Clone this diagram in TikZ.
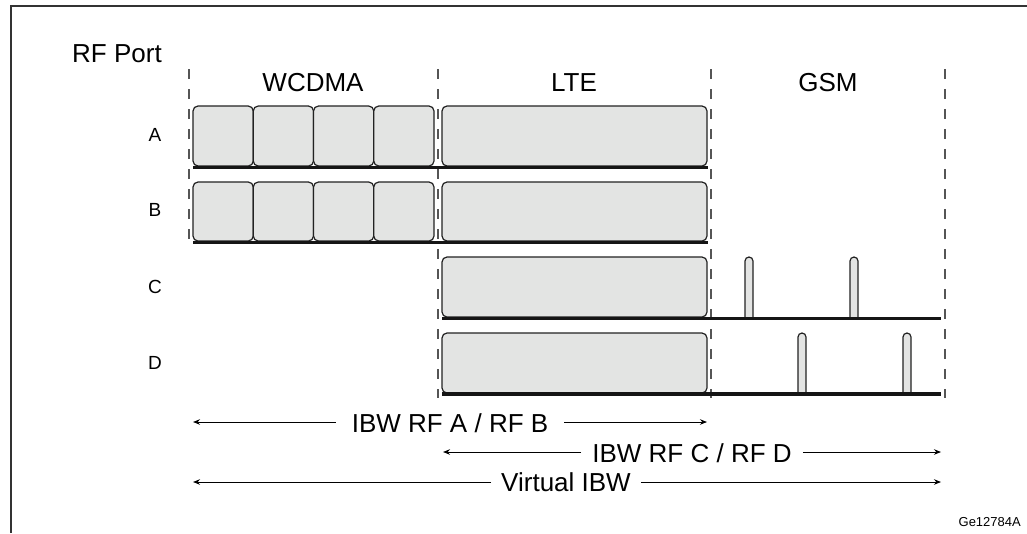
\documentclass[tikz,border=0pt]{standalone}
\usepackage{fontspec}
\setmainfont{Liberation Sans}
\usetikzlibrary{arrows.meta}
\definecolor{cellfill}{HTML}{E3E4E3}
\definecolor{cellline}{HTML}{222222}
\definecolor{baseclr}{HTML}{151515}
\definecolor{divclr}{HTML}{555555}
\definecolor{frameclr}{HTML}{333333}
\begin{document}
\begin{tikzpicture}[x=1pt,y=-1pt,
  frame/.style={draw=frameclr, line width=2pt},
  divider/.style={draw=divclr, line width=1.4pt, dash pattern=on 10pt off 10pt},
  cell/.style={draw=cellline, fill=cellfill, line width=1.2pt, rounded corners=5pt},
  pulse/.style={draw=cellline, fill=cellfill, line width=1.2pt},
  baseline/.style={draw=baseclr, line width=3.8pt},
  big/.style={font=\fontsize{26}{30}\selectfont, inner sep=0pt},
  portlbl/.style={font=\fontsize{19}{22}\selectfont, inner sep=0pt, anchor=base},
  dimtxt/.style={font=\fontsize{26}{30}\selectfont, inner ysep=0pt, anchor=base},
  arr/.style={draw=black, line width=1pt, -{Stealth[length=7pt,width=5.5pt]}}
]
\useasboundingbox (0,0) rectangle (1027,533);

% frame
\draw[frame] (11,533) -- (11,5.5) -- (1027,5.5);

% headings
\node[big, anchor=base west] (rfport) at (72,62) {RF Port};
\node[big, anchor=base] (wcdma) at (313,91.7) {WCDMA};
\node[big, anchor=base] (lte) at (574,91.7) {LTE};
\node[big, anchor=base] (gsm) at (828,91.7) {GSM};

% dividers
\draw[divider] (189,69) -- (189,248);
\draw[divider] (438,69) -- (438,398);
\draw[divider] (711,69) -- (711,398);
\draw[divider] (945,69) -- (945,398);

% port labels
\node[portlbl] (pa) at (155,141.7) {A};
\node[portlbl] (pb) at (155,216.7) {B};
\node[portlbl] (pc) at (155,293.5) {C};
\node[portlbl] (pd) at (155,369) {D};

% WCDMA carriers
\foreach \x in {193,253.25,313.5,373.75}{
  \draw[cell] (\x,106) rectangle ++(60.25,60);
  \draw[cell] (\x,182) rectangle ++(60.25,59);
}
% LTE carriers
\draw[cell] (442,106) rectangle (707,166);
\draw[cell] (442,182) rectangle (707,241);
\draw[cell] (442,257) rectangle (707,317);
\draw[cell] (442,333) rectangle (707,393);

% GSM carriers
\foreach \x/\t/\b in {749/257/318, 854/257/318, 802/333/393.5, 907/333/393.5}{
  \draw[pulse] (\x-4,\b) -- (\x-4,\t+4) arc[start angle=180, end angle=360, radius=4] -- (\x+4,\b);
}

% baselines
\draw[baseline] (193,167.5) -- (707.5,167.5);
\draw[baseline] (193,242.5) -- (707.5,242.5);
\draw[baseline] (442,318.5) -- (941,318.5);
\draw[baseline] (442,394) -- (941,394);

% bandwidth arrows
\coordinate (l1) at (193,422);
\coordinate (r1) at (707,422);
\node[dimtxt, inner xsep=16pt] (t1) at (450,432) {IBW RF A / RF B};
\draw[arr] (t1.west |- l1) -- (l1);
\draw[arr] (t1.east |- r1) -- (r1);

\coordinate (l2) at (443,452);
\coordinate (r2) at (941,452);
\node[dimtxt, inner xsep=11pt] (t2) at (692,462.5) {IBW RF C / RF D};
\draw[arr] (t2.west |- l2) -- (l2);
\draw[arr] (t2.east |- r2) -- (r2);

\coordinate (l3) at (193,482);
\coordinate (r3) at (941,482);
\node[dimtxt, inner xsep=10pt] (t3) at (566,491.5) {Virtual IBW};
\draw[arr] (t3.west |- l3) -- (l3);
\draw[arr] (t3.east |- r3) -- (r3);

% figure id
\node[font=\fontsize{13}{15}\selectfont, inner sep=0pt, anchor=base east] (gid) at (1021,526) {Ge12784A};
\end{tikzpicture}
\end{document}
